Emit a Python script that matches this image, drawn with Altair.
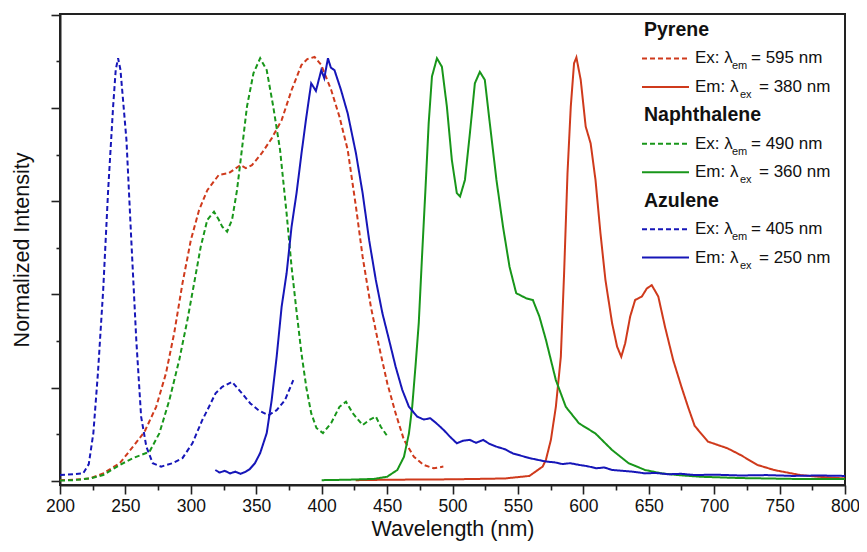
import altair as alt
import pandas as pd

FONT = "Liberation Sans"

# ---------------- data ----------------
pyr_ex_nm = [200, 210, 223, 233, 245.7, 255.8, 264.6, 273.5, 281, 287.3, 293.6, 300, 306.3, 312.6, 321.4,
             329, 337.9, 342, 346.7, 354.2, 361.8, 369.4, 377, 384.5, 389, 394.6, 399.7, 407.3, 413.6, 419.9,
             426.2, 431.3, 437.6, 443.9, 450.2, 456.5, 462.9, 470.5, 478, 485.6, 493]
pyr_ex_v = [0.002, 0.003, 0.006, 0.018, 0.042, 0.081, 0.116, 0.175, 0.254, 0.349, 0.466, 0.568, 0.639, 0.686, 0.722,
            0.726, 0.745, 0.738, 0.745, 0.773, 0.808, 0.851, 0.922, 0.981, 0.995, 1.0, 0.981, 0.922, 0.859, 0.781,
            0.647, 0.529, 0.411, 0.317, 0.230, 0.160, 0.097, 0.057, 0.038, 0.030, 0.034]

nap_ex_nm = [200, 210, 223, 233, 245.7, 255.8, 268.4, 276, 283.6, 291.1, 297.4, 302.5, 307.6, 312.6, 317.7,
             321.4, 324, 327.7, 331.5, 335.3, 339, 342.9, 347.9, 353, 358, 363, 368.2, 373.2, 377, 380.8,
             384.6, 388.3, 392, 396, 401, 407.3, 413.6, 418.6, 423.7, 431.3, 436.4, 441.4, 445.2, 449.7]
nap_ex_v = [0.001, 0.002, 0.006, 0.014, 0.038, 0.054, 0.069, 0.113, 0.191, 0.285, 0.380, 0.466, 0.553, 0.616, 0.635,
            0.616, 0.600, 0.588, 0.616, 0.686, 0.781, 0.883, 0.962, 0.997, 0.969, 0.883, 0.781, 0.631, 0.505, 0.40,
            0.30, 0.22, 0.16, 0.125, 0.113, 0.137, 0.175, 0.187, 0.160, 0.132, 0.144, 0.152, 0.128, 0.108]

azu_ex_nm = [200, 210, 217.7, 222, 225.5, 229, 233, 236.8, 240.6, 242.6, 244.4, 246.2, 250.8, 254.5, 258.3,
             262, 266, 270.9, 277.3, 286, 293.6, 301.2, 308.8, 313.9, 318.9, 324, 331.5, 339, 345.5, 351.7,
             359.3, 365.6, 372, 378.3]
azu_ex_v = [0.014, 0.016, 0.018, 0.04, 0.113, 0.255, 0.45, 0.686, 0.883, 0.97, 0.997, 0.97, 0.804, 0.568, 0.333,
            0.152, 0.081, 0.042, 0.034, 0.042, 0.054, 0.089, 0.144, 0.175, 0.207, 0.222, 0.234, 0.207, 0.183, 0.167,
            0.155, 0.167, 0.191, 0.238]

pyr_em_nm = [426, 450, 500, 540, 558.8, 568.9, 571.4, 575.2, 579, 582.8, 585.3, 587.9, 590.4, 592.9, 594.7,
             598, 601.8, 605.6, 609.3, 613.1, 616.9, 622, 625.8, 629, 632, 635.8, 639.6, 644.7, 648.5, 652.3,
             657.3, 662.4, 668.7, 675, 680, 685.1, 695.2, 710.3, 720.4, 733, 745.7, 765.9, 780, 800]
pyr_em_v = [0.002, 0.003, 0.004, 0.006, 0.012, 0.034, 0.050, 0.097, 0.175, 0.293, 0.490, 0.726, 0.883, 0.985, 0.999,
            0.946, 0.836, 0.796, 0.710, 0.584, 0.474, 0.372, 0.317, 0.293, 0.325, 0.388, 0.427, 0.435, 0.454, 0.462,
            0.435, 0.364, 0.285, 0.222, 0.175, 0.130, 0.093, 0.077, 0.061, 0.038, 0.026, 0.014, 0.010, 0.006]

nap_em_nm = [400, 420, 440, 450, 457.8, 462.9, 466.7, 469.2, 471.7, 474.2, 476.7, 479.3, 481.8, 484.3, 488.1,
             491.9, 495.7, 499.5, 503.3, 505.8, 509.5, 513.3, 517.1, 520.9, 524.7, 528.5, 533.6, 538.6, 543.6, 548.7,
             556.3, 561.4, 566.4, 571.4, 579, 586.6, 596.7, 609.3, 622, 634.6, 647.2, 660, 672.4, 690, 720, 760, 800]
nap_em_v = [0.002, 0.003, 0.005, 0.010, 0.026, 0.057, 0.112, 0.175, 0.270, 0.372, 0.529, 0.686, 0.844, 0.954, 0.997,
            0.977, 0.883, 0.757, 0.679, 0.671, 0.710, 0.820, 0.938, 0.965, 0.946, 0.844, 0.710, 0.600, 0.505, 0.443,
            0.431, 0.427, 0.388, 0.333, 0.238, 0.175, 0.136, 0.112, 0.073, 0.042, 0.026, 0.018, 0.014, 0.010, 0.007,
            0.005, 0.005]

azu_em_nm = [318.7, 322, 326, 330, 334, 338, 342, 345, 349, 353, 358, 361.8, 365.6, 369.4, 373.2, 377, 380.8,
             384.6, 388.3, 392, 395.6, 399.7, 402, 404.8, 407, 409.8, 414.8, 419.9, 426.2, 431.3, 436.3, 441.4,
             446.4, 451.5, 456.5, 461.6, 466.7, 473, 478, 483, 487, 490.6, 494, 498.2, 503.3, 508, 513.3, 518,
             523.5, 528, 533.6, 540, 546.2, 552, 558.8, 565, 571.4, 578, 584, 590, 596.7, 603, 610, 616, 622, 630,
             638, 647.2, 655, 665, 675, 685, 700, 720, 740, 760, 780, 800]
azu_em_v = [0.026, 0.020, 0.024, 0.018, 0.022, 0.017, 0.022, 0.028, 0.042, 0.066, 0.113, 0.191, 0.293, 0.411, 0.490,
            0.600, 0.679, 0.773, 0.859, 0.938, 0.920, 0.969, 0.950, 0.997, 0.975, 0.969, 0.922, 0.867, 0.773, 0.679,
            0.568, 0.474, 0.396, 0.333, 0.270, 0.215, 0.175, 0.152, 0.145, 0.148, 0.138, 0.128, 0.118, 0.104, 0.089,
            0.095, 0.097, 0.090, 0.097, 0.088, 0.081, 0.075, 0.065, 0.060, 0.054, 0.050, 0.046, 0.044, 0.040, 0.042,
            0.038, 0.035, 0.030, 0.032, 0.026, 0.024, 0.022, 0.018, 0.019, 0.016, 0.017, 0.014, 0.015, 0.013, 0.014,
            0.012, 0.013, 0.012]

series = ["Pyrene Ex", "Naphthalene Ex", "Azulene Ex", "Pyrene Em", "Naphthalene Em", "Azulene Em"]
colors = ["#cf3a1c", "#18961a", "#1616b8", "#cf3a1c", "#18961a", "#1616b8"]
dashes = [[5, 3], [5, 3], [5, 3], [1, 0], [1, 0], [1, 0]]
xs = [pyr_ex_nm, nap_ex_nm, azu_ex_nm, pyr_em_nm, nap_em_nm, azu_em_nm]
ys = [pyr_ex_v, nap_ex_v, azu_ex_v, pyr_em_v, nap_em_v, azu_em_v]

x_ticks = list(range(200, 801, 25))
y_ticks = [round(0.11 * k, 2) for k in range(11)]

# legend text
groups = ["Pyrene", "Naphthalene", "Azulene"]
leg_prefix = ["Ex: λ", "Em: λ"]
leg_sub = ["em", "ex"]
leg_values = [["= 595 nm", "= 380 nm"], ["= 490 nm", "= 360 nm"], ["= 405 nm", "= 250 nm"]]
group_colors = ["#cf3a1c", "#18961a", "#1616b8"]

frames = []
for name, xv, yv in zip(series, xs, ys):
    frames.append(pd.DataFrame({"nm": xv, "v": yv, "series": name}))
df = pd.concat(frames, ignore_index=True)

W, H = 785, 471

xscale = alt.Scale(domain=[200, 800], nice=False, zero=False)
yscale = alt.Scale(domain=[-0.0094, 1.1014], nice=False, zero=False)

lines = alt.Chart(df).mark_line(strokeWidth=2).encode(
    x=alt.X("nm:Q", scale=xscale, axis=alt.Axis(
        values=x_ticks, labelExpr="datum.value % 50 === 0 ? datum.label : ''",
        tickSize={"condition": {"test": "datum.value % 50 === 0", "value": 9}, "value": 5},
        title="Wavelength (nm)", grid=False, labelFontSize=17.5, labelPadding=3,
        titleFontSize=21.5, titleFontWeight="normal", titlePadding=4, labelFlush=False)),
    y=alt.Y("v:Q", scale=yscale, axis=alt.Axis(
        values=y_ticks, labels=False,
        tickSize={"condition": {"test": "round(datum.value / 0.11) % 2 === 0", "value": 9}, "value": 4},
        title="Normalized Intensity", grid=False, titleFontSize=21.5, titleFontWeight="normal",
        titlePadding=17)),
    color=alt.Color("series:N", scale=alt.Scale(domain=series, range=colors), legend=None),
    strokeDash=alt.StrokeDash("series:N", scale=alt.Scale(domain=series, range=dashes), legend=None),
    detail="series:N",
)

layers = [lines]


def text_layer(x, y, s, size, weight="normal"):
    return alt.Chart(pd.DataFrame({"t": [s]})).mark_text(
        align="left", baseline="middle", fontSize=size, fontWeight=weight, font=FONT, color="#111111"
    ).encode(x=alt.value(x), y=alt.value(y), text="t:N")


row_h = 28.45
y0 = 16
row = 0
for gi, g in enumerate(groups):
    layers.append(text_layer(584, y0 + row * row_h, g, 19.5, "bold"))
    row += 1
    for k in range(2):
        yy = y0 + row * row_h
        rule_kwargs = dict(strokeWidth=2, color=group_colors[gi])
        if k == 0:
            rule_kwargs["strokeDash"] = [5, 3]
        layers.append(alt.Chart(pd.DataFrame({"a": [0]})).mark_rule(**rule_kwargs).encode(
            x=alt.value(582), x2=alt.value(629), y=alt.value(yy)))
        layers.append(text_layer(635, yy, leg_prefix[k], 17))
        layers.append(text_layer(672 if k == 0 else 680, yy + 8, leg_sub[k], 11))
        layers.append(text_layer(691 if k == 0 else 699, yy, leg_values[gi][k], 17))
        row += 1

chart = alt.layer(*layers).properties(
    width=W, height=H,
    background="white",
    autosize=alt.AutoSizeParams(type="none"),
    padding={"left": 52, "top": 6, "right": 14, "bottom": 59},
).configure_view(
    stroke="#222222", strokeWidth=2
).configure_axis(
    domainColor="#222222", domainWidth=2, tickColor="#222222", tickWidth=1.6,
    labelFont=FONT, titleFont=FONT, labelColor="#111111", titleColor="#111111"
)

chart.save("out.html", embed_options={"renderer": "svg", "actions": False})
